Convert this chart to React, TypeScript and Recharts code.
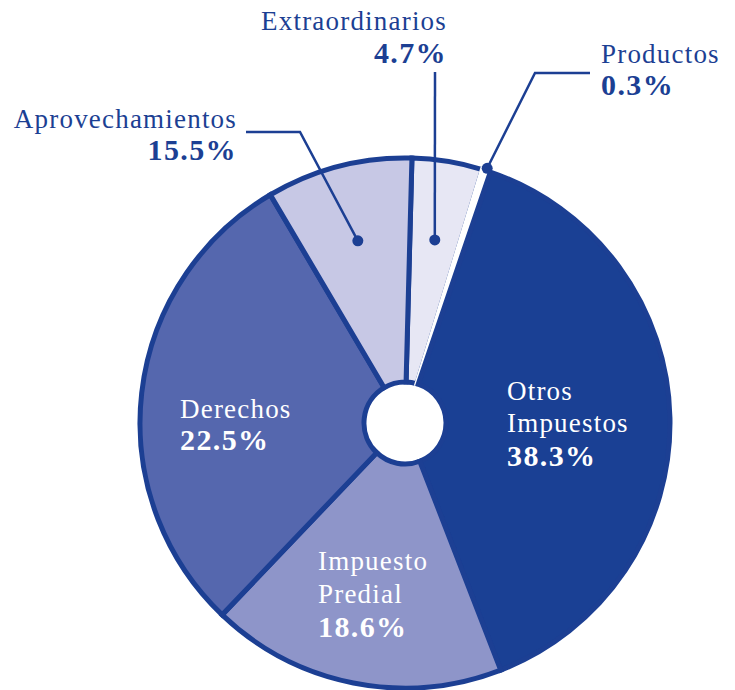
import React from "react";
import { PieChart, Pie, Cell } from "recharts";

// slice names, drawn shares and the printed percentages
const names = ["Extraordinarios", "Productos", "Otros Impuestos", "Impuesto Predial", "Derechos", "Aprovechamientos"];
const shares = [4.3, 0.5, 38.9, 18.0, 29.4, 8.9];
const printed = ["4.7%", "0.3%", "38.3%", "18.6%", "22.5%", "15.5%"];
const colors = ["#e7e7f4", "#ffffff", "#1a4094", "#8e95c9", "#5567ae", "#c7c8e5"];

const data = names.map((name, i) => ({ name, value: shares[i], pct: printed[i] }));

const BLUE = "#1c3f93";
const FONT = "'Liberation Serif', serif";
const RAD = Math.PI / 180;

// label layout, offsets from the pie centre
type Inside = { kind: "in"; x: number; lines: string[]; ys: number[] };
type Outside = {
  kind: "out";
  dotR: number;
  path: [number, number][];
  x: number;
  anchor: "start" | "end";
  ys: number[];
  lines: string[];
};
const layout: Record<string, Inside | Outside> = {
  "Otros Impuestos": { kind: "in", x: 102, lines: ["Otros", "Impuestos"], ys: [-23, 9, 43] },
  Derechos: { kind: "in", x: -225, lines: ["Derechos"], ys: [-5, 27] },
  "Impuesto Predial": { kind: "in", x: -87, lines: ["Impuesto", "Predial"], ys: [147, 180, 214] },
  Extraordinarios: { kind: "out", dotR: 0.7, path: [[30, -351]], x: 42, anchor: "end", ys: [-393, -360], lines: ["Extraordinarios"] },
  Productos: { kind: "out", dotR: 1.01, path: [[130, -350], [185, -350]], x: 196, anchor: "start", ys: [-360, -328], lines: ["Productos"] },
  Aprovechamientos: { kind: "out", dotR: 0.71, path: [[-105, -291], [-159, -291]], x: -168, anchor: "end", ys: [-295, -263], lines: ["Aprovechamientos"] },
};

const nameStyle = { fontFamily: FONT, fontSize: 27, letterSpacing: 1.2 };
const pctStyle = { fontFamily: FONT, fontSize: 30, fontWeight: 700, letterSpacing: 1.4 };

const renderLabel = (props: any) => {
  const { cx, cy, midAngle, outerRadius, name, payload } = props;
  const cfg = layout[name];
  if (!cfg) return null;
  const pct = payload?.pct ?? "";
  if (cfg.kind === "in") {
    return (
      <g>
        {cfg.lines.map((t, i) => (
          <text key={t} x={cx + cfg.x} y={cy + cfg.ys[i]} fill="#ffffff" style={nameStyle}>
            {t}
          </text>
        ))}
        <text x={cx + cfg.x} y={cy + cfg.ys[cfg.lines.length]} fill="#ffffff" style={pctStyle}>
          {pct}
        </text>
      </g>
    );
  }
  const r = outerRadius * cfg.dotR;
  const dx = cx + r * Math.cos(-midAngle * RAD);
  const dy = cy + r * Math.sin(-midAngle * RAD);
  const pts = [[dx, dy], ...cfg.path.map(([px, py]) => [cx + px, cy + py])];
  return (
    <g>
      <polyline points={pts.map((p) => p.join(",")).join(" ")} fill="none" stroke={BLUE} strokeWidth={2.5} />
      <circle cx={dx} cy={dy} r={5.5} fill={BLUE} />
      <text x={cx + cfg.x} y={cy + cfg.ys[0]} fill={BLUE} textAnchor={cfg.anchor} style={nameStyle}>
        {cfg.lines[0]}
      </text>
      <text x={cx + cfg.x} y={cy + cfg.ys[1]} fill={BLUE} textAnchor={cfg.anchor} style={pctStyle}>
        {pct}
      </text>
    </g>
  );
};

export default function App() {
  return (
    <div style={{ position: "absolute", left: 0, top: 0, width: 735, height: 690, background: "#ffffff" }}>
      <PieChart width={735} height={690} margin={{ top: 0, right: 0, bottom: 0, left: 0 }}>
        <Pie
          data={data}
          dataKey="value"
          nameKey="name"
          cx={405}
          cy={423}
          innerRadius={41}
          outerRadius={265}
          startAngle={88.5}
          endAngle={-271.5}
          paddingAngle={0}
          label={renderLabel}
          labelLine={false}
          isAnimationActive={false}
        >
          {data.map((d, i) => (
            <Cell
              key={d.name}
              fill={colors[i]}
              stroke={d.name === "Productos" ? "#ffffff" : BLUE}
              strokeWidth={5}
            />
          ))}
        </Pie>
      </PieChart>
    </div>
  );
}
